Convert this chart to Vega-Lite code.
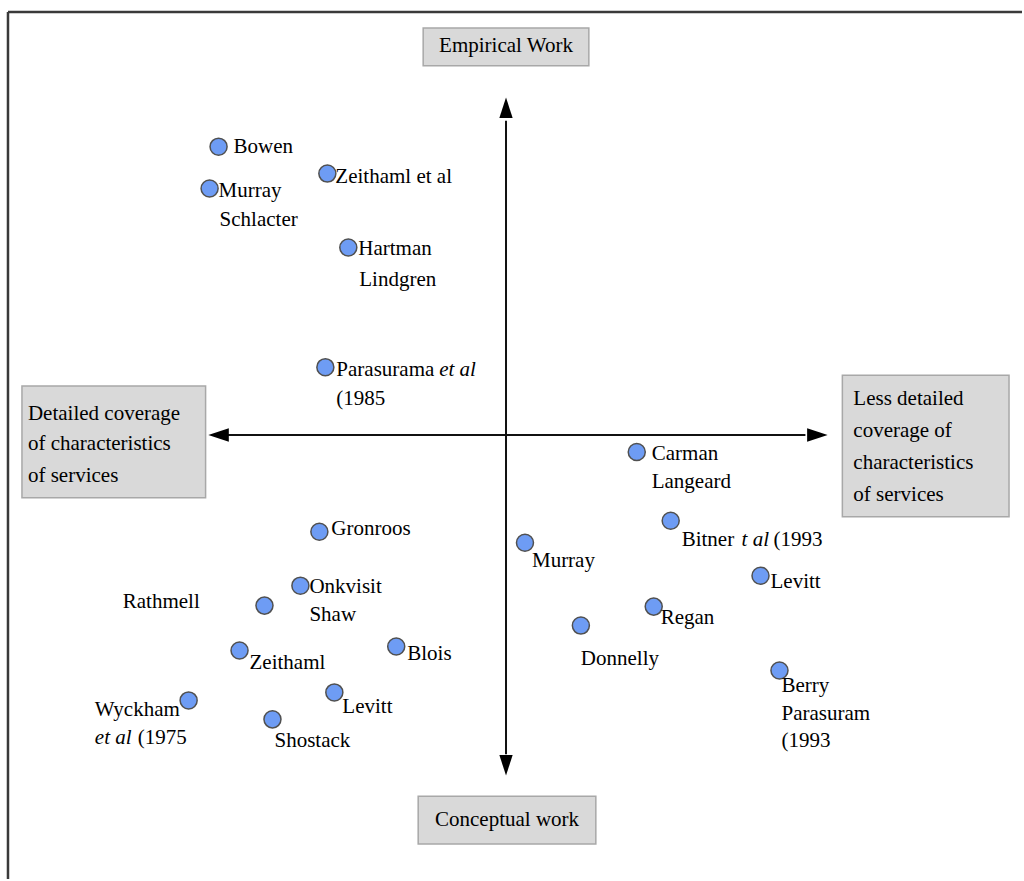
{
  "$schema": "https://vega.github.io/schema/vega-lite/v6.json",
  "width": 1024,
  "height": 881,
  "autosize": {"type": "fit", "contains": "padding"},
  "padding": 0,
  "background": "white",
  "config": {"view": {"stroke": null}},
  "datasets": {
    "frame": [
      {"x": -49.9, "y": 42.4, "x2": 51.7, "y2": 42.4},
      {"x": -49.9, "y": 42.4, "x2": -49.9, "y2": -44.5}
    ],
    "axes": [
      {"x": -28.0, "y": 0, "x2": 30.0, "y2": 0},
      {"x": 0, "y": 31.5, "x2": 0, "y2": -32.0}
    ],
    "heads": [
      {"x": 0, "y": 32.8, "dir": "up"},
      {"x": 0, "y": -33.1, "dir": "down"},
      {"x": -28.8, "y": 0, "dir": "left"},
      {"x": 31.2, "y": 0, "dir": "right"}
    ],
    "boxes": [
      {"x": -8.3, "x2": 8.3, "y": 40.8, "y2": 37.0},
      {"x": -8.8, "x2": 9.0, "y": -36.2, "y2": -41.0},
      {"x": -48.5, "x2": -30.1, "y": 4.9, "y2": -6.3},
      {"x": 33.7, "x2": 50.4, "y": 6.0, "y2": -8.2}
    ],
    "boxtext": [
      {"t": "Empirical Work", "x": 0.0, "y": 39.0, "c": true},
      {"t": "Conceptual work", "x": 0.1, "y": -38.6, "c": true},
      {"t": "Detailed coverage", "x": -47.9, "y": 2.1, "c": false},
      {"t": "of characteristics", "x": -47.9, "y": -0.9, "c": false},
      {"t": "of services", "x": -47.9, "y": -4.1, "c": false},
      {"t": "Less detailed", "x": 34.8, "y": 3.6, "c": false},
      {"t": "coverage of", "x": 34.8, "y": 0.4, "c": false},
      {"t": "characteristics", "x": 34.8, "y": -2.8, "c": false},
      {"t": "of services", "x": 34.8, "y": -6.0, "c": false}
    ],
    "points": [
      {"name": "Bowen", "x": -28.8, "y": 28.9},
      {"name": "Murray Schlacter", "x": -29.7, "y": 24.7},
      {"name": "Zeithaml et al", "x": -17.9, "y": 26.2},
      {"name": "Hartman Lindgren", "x": -15.8, "y": 18.8},
      {"name": "Parasurama et al (1985", "x": -18.1, "y": 6.8},
      {"name": "Carman Langeard", "x": 13.1, "y": -1.7},
      {"name": "Bitner t al (1993", "x": 16.5, "y": -8.6},
      {"name": "Levitt", "x": 25.5, "y": -14.1},
      {"name": "Murray", "x": 1.9, "y": -10.8},
      {"name": "Regan", "x": 14.8, "y": -17.2},
      {"name": "Donnelly", "x": 7.5, "y": -19.1},
      {"name": "Berry Parasuram (1993", "x": 27.4, "y": -23.6},
      {"name": "Gronroos", "x": -18.7, "y": -9.7},
      {"name": "Onkvisit Shaw", "x": -20.6, "y": -15.1},
      {"name": "Rathmell", "x": -24.2, "y": -17.1},
      {"name": "Zeithaml", "x": -26.7, "y": -21.6},
      {"name": "Blois", "x": -11.0, "y": -21.2},
      {"name": "Levitt (left)", "x": -17.2, "y": -25.8},
      {"name": "Wyckham et al (1975", "x": -31.8, "y": -26.6},
      {"name": "Shostack", "x": -23.4, "y": -28.5}
    ],
    "labels": [
      {"t": "Bowen", "x": -27.3, "y": 28.9, "it": false},
      {"t": "Murray", "x": -28.8, "y": 24.5, "it": false},
      {"t": "Schlacter", "x": -28.7, "y": 21.6, "it": false},
      {"t": "Zeithaml et al", "x": -17.1, "y": 25.9, "it": false},
      {"t": "Hartman", "x": -14.8, "y": 18.6, "it": false},
      {"t": "Lindgren", "x": -14.7, "y": 15.5, "it": false},
      {"t": "Parasurama", "x": -17.0, "y": 6.5, "it": false},
      {"t": "et al", "x": -6.7, "y": 6.5, "it": true},
      {"t": "(1985", "x": -17.0, "y": 3.6, "it": false},
      {"t": "Carman", "x": 14.6, "y": -1.9, "it": false},
      {"t": "Langeard", "x": 14.6, "y": -4.7, "it": false},
      {"t": "Bitner", "x": 17.6, "y": -10.5, "it": false},
      {"t": "t al", "x": 23.6, "y": -10.5, "it": true},
      {"t": "(1993", "x": 26.8, "y": -10.5, "it": false},
      {"t": "Levitt", "x": 26.5, "y": -14.7, "it": false},
      {"t": "Murray", "x": 2.6, "y": -12.6, "it": false},
      {"t": "Regan", "x": 15.5, "y": -18.3, "it": false},
      {"t": "Donnelly", "x": 7.5, "y": -22.4, "it": false},
      {"t": "Berry", "x": 27.6, "y": -25.2, "it": false},
      {"t": "Parasuram", "x": 27.6, "y": -28.0, "it": false},
      {"t": "(1993", "x": 27.6, "y": -30.7, "it": false},
      {"t": "Gronroos", "x": -17.5, "y": -9.4, "it": false},
      {"t": "Onkvisit", "x": -19.7, "y": -15.2, "it": false},
      {"t": "Shaw", "x": -19.7, "y": -18.0, "it": false},
      {"t": "Rathmell", "x": -38.4, "y": -16.7, "it": false},
      {"t": "Zeithaml", "x": -25.7, "y": -22.9, "it": false},
      {"t": "Blois", "x": -9.9, "y": -21.9, "it": false},
      {"t": "Levitt", "x": -16.4, "y": -27.3, "it": false},
      {"t": "Wyckham", "x": -41.2, "y": -27.6, "it": false},
      {"t": "et al", "x": -41.2, "y": -30.4, "it": true},
      {"t": "(1975", "x": -36.9, "y": -30.4, "it": false},
      {"t": "Shostack", "x": -23.2, "y": -30.7, "it": false}
    ]
  },
  "layer": [
    {
      "data": {"name": "frame"},
      "mark": {"type": "rule", "color": "#3a3a3a", "strokeWidth": 2.5},
      "encoding": {
        "x": {"field": "x", "type": "quantitative", "scale": {"domain": [-50.7, 51.7], "nice": false, "zero": false}, "axis": null},
        "y": {"field": "y", "type": "quantitative", "scale": {"domain": [-44.5, 43.6], "nice": false, "zero": false}, "axis": null},
        "x2": {"field": "x2"},
        "y2": {"field": "y2"}
      }
    },
    {
      "data": {"name": "boxes"},
      "mark": {"type": "rect", "fill": "#d9d9d9", "stroke": "#a8a8a8", "strokeWidth": 1.5},
      "encoding": {
        "x": {"field": "x", "type": "quantitative", "scale": {"domain": [-50.7, 51.7], "nice": false, "zero": false}, "axis": null},
        "y": {"field": "y", "type": "quantitative", "scale": {"domain": [-44.5, 43.6], "nice": false, "zero": false}, "axis": null},
        "x2": {"field": "x2"},
        "y2": {"field": "y2"}
      }
    },
    {
      "data": {"name": "axes"},
      "mark": {"type": "rule", "color": "#111111", "strokeWidth": 2},
      "encoding": {
        "x": {"field": "x", "type": "quantitative", "scale": {"domain": [-50.7, 51.7], "nice": false, "zero": false}, "axis": null},
        "y": {"field": "y", "type": "quantitative", "scale": {"domain": [-44.5, 43.6], "nice": false, "zero": false}, "axis": null},
        "x2": {"field": "x2"},
        "y2": {"field": "y2"}
      }
    },
    {
      "data": {"name": "heads"},
      "mark": {"type": "point", "filled": true, "color": "#000000", "opacity": 1, "size": 420},
      "encoding": {
        "x": {"field": "x", "type": "quantitative", "scale": {"domain": [-50.7, 51.7], "nice": false, "zero": false}, "axis": null},
        "y": {"field": "y", "type": "quantitative", "scale": {"domain": [-44.5, 43.6], "nice": false, "zero": false}, "axis": null},
        "shape": {"field": "dir", "type": "nominal", "legend": null, "scale": {"domain": ["up", "right", "down", "left"], "range": ["M0,-1L0.65,1L-0.65,1Z", "M1,0L-1,0.65L-1,-0.65Z", "M0,1L0.65,-1L-0.65,-1Z", "M-1,0L1,0.65L1,-0.65Z"]}}
      }
    },
    {
      "data": {"name": "boxtext"},
      "transform": [{"filter": "datum.c"}],
      "mark": {"type": "text", "font": "Liberation Serif", "fontSize": 21, "color": "#000000", "align": "center", "baseline": "middle"},
      "encoding": {
        "x": {"field": "x", "type": "quantitative", "scale": {"domain": [-50.7, 51.7], "nice": false, "zero": false}, "axis": null},
        "y": {"field": "y", "type": "quantitative", "scale": {"domain": [-44.5, 43.6], "nice": false, "zero": false}, "axis": null},
        "text": {"field": "t"}
      }
    },
    {
      "data": {"name": "boxtext"},
      "transform": [{"filter": "!datum.c"}],
      "mark": {"type": "text", "font": "Liberation Serif", "fontSize": 21, "color": "#000000", "align": "left", "baseline": "middle"},
      "encoding": {
        "x": {"field": "x", "type": "quantitative", "scale": {"domain": [-50.7, 51.7], "nice": false, "zero": false}, "axis": null},
        "y": {"field": "y", "type": "quantitative", "scale": {"domain": [-44.5, 43.6], "nice": false, "zero": false}, "axis": null},
        "text": {"field": "t"}
      }
    },
    {
      "data": {"name": "points"},
      "mark": {"type": "point", "shape": "circle", "filled": true, "fill": "#6e9cf4", "stroke": "#505050", "strokeWidth": 1.5, "opacity": 1, "fillOpacity": 1, "size": 290},
      "encoding": {
        "x": {"field": "x", "type": "quantitative", "scale": {"domain": [-50.7, 51.7], "nice": false, "zero": false}, "axis": null},
        "y": {"field": "y", "type": "quantitative", "scale": {"domain": [-44.5, 43.6], "nice": false, "zero": false}, "axis": null}
      }
    },
    {
      "data": {"name": "labels"},
      "transform": [{"filter": "!datum.it"}],
      "mark": {"type": "text", "font": "Liberation Serif", "fontSize": 21, "color": "#000000", "align": "left", "baseline": "middle"},
      "encoding": {
        "x": {"field": "x", "type": "quantitative", "scale": {"domain": [-50.7, 51.7], "nice": false, "zero": false}, "axis": null},
        "y": {"field": "y", "type": "quantitative", "scale": {"domain": [-44.5, 43.6], "nice": false, "zero": false}, "axis": null},
        "text": {"field": "t"}
      }
    },
    {
      "data": {"name": "labels"},
      "transform": [{"filter": "datum.it"}],
      "mark": {"type": "text", "font": "Liberation Serif", "fontSize": 21, "fontStyle": "italic", "color": "#000000", "align": "left", "baseline": "middle"},
      "encoding": {
        "x": {"field": "x", "type": "quantitative", "scale": {"domain": [-50.7, 51.7], "nice": false, "zero": false}, "axis": null},
        "y": {"field": "y", "type": "quantitative", "scale": {"domain": [-44.5, 43.6], "nice": false, "zero": false}, "axis": null},
        "text": {"field": "t"}
      }
    }
  ]
}
